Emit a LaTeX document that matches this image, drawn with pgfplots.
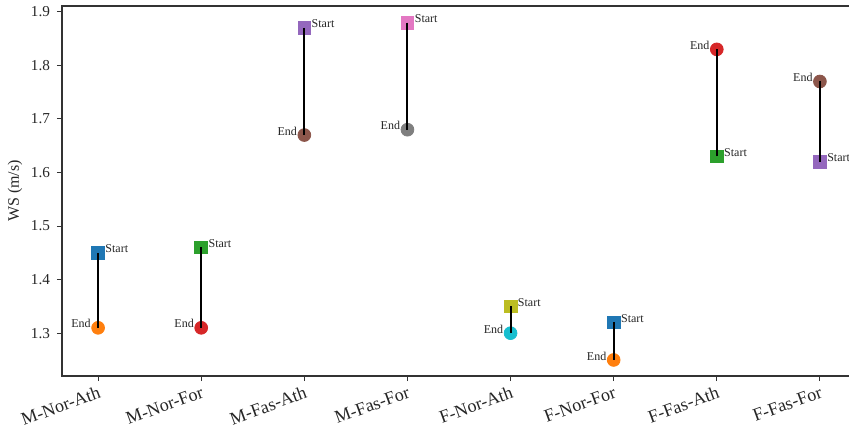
\documentclass[border=0pt]{standalone}
\usepackage{pgfplots}
\pgfplotsset{compat=1.18}
\usepackage{fontspec}
\setmainfont{Liberation Serif}
\definecolor{tabblue}{HTML}{1F77B4}
\definecolor{taborange}{HTML}{FF7F0E}
\definecolor{tabgreen}{HTML}{2CA02C}
\definecolor{tabred}{HTML}{D62728}
\definecolor{tabpurple}{HTML}{9467BD}
\definecolor{tabbrown}{HTML}{8C564B}
\definecolor{tabpink}{HTML}{E377C2}
\definecolor{tabgray}{HTML}{7F7F7F}
\definecolor{tabolive}{HTML}{BCBD22}
\definecolor{tabcyan}{HTML}{17BECF}
\begin{document}
\begin{tikzpicture}
\useasboundingbox (-31pt,-26.5pt) rectangle (393.5pt,188pt);
\clip (-31pt,-26.5pt) rectangle (393.5pt,188pt);
\begin{axis}[
  at={(0,0)}, anchor=south west,
  scale only axis, width=397pt, height=185pt,
  xmin=-0.35, xmax=7.35, ymin=1.22, ymax=1.911,
  xtick={0,1,2,3,4,5,6,7},
  xticklabels={M-Nor-Ath,M-Nor-For,M-Fas-Ath,M-Fas-For,F-Nor-Ath,F-Nor-For,F-Fas-Ath,F-Fas-For},
  ytick={1.3,1.4,1.5,1.6,1.7,1.8,1.9},
  yticklabel style={/pgf/number format/fixed, /pgf/number format/precision=1, /pgf/number format/fixed zerofill, font=\fontsize{7.6}{9}\selectfont, text=black!85},
  /pgf/number format/assume math mode=true,
  tick align=outside, major tick length=2.5pt,
  tick style={black!80, line width=0.5pt},
  axis line style={black!80, line width=0.6pt},
  xtick pos=bottom, ytick pos=left,
  xticklabel style={font=\fontsize{9}{10}\selectfont, text=black!85, rotate=20, anchor=north east, inner sep=1pt, yshift=-1pt},
  ylabel={WS (m/s)},
  ylabel style={font=\fontsize{8}{9}\selectfont, text=black!85, at={(axis description cs:-0.0592,0.5)}, anchor=center, rotate=0},
  clip=true, clip marker paths=true,
]
% start markers (squares)
\addplot[only marks, mark=square*, mark size=3.2pt, color=tabblue] coordinates {(0,1.45)};
\addplot[only marks, mark=square*, mark size=3.2pt, color=tabgreen] coordinates {(1,1.46)};
\addplot[only marks, mark=square*, mark size=3.2pt, color=tabpurple] coordinates {(2,1.87)};
\addplot[only marks, mark=square*, mark size=3.2pt, color=tabpink] coordinates {(3,1.88)};
\addplot[only marks, mark=square*, mark size=3.2pt, color=tabolive] coordinates {(4,1.35)};
\addplot[only marks, mark=square*, mark size=3.2pt, color=tabblue] coordinates {(5,1.32)};
\addplot[only marks, mark=square*, mark size=3.2pt, color=tabgreen] coordinates {(6,1.63)};
\addplot[only marks, mark=square*, mark size=3.2pt, color=tabpurple] coordinates {(7,1.62)};
% end markers (circles)
\addplot[only marks, mark=*, mark size=3.2pt, color=taborange] coordinates {(0,1.31)};
\addplot[only marks, mark=*, mark size=3.2pt, color=tabred] coordinates {(1,1.31)};
\addplot[only marks, mark=*, mark size=3.2pt, color=tabbrown] coordinates {(2,1.67)};
\addplot[only marks, mark=*, mark size=3.2pt, color=tabgray] coordinates {(3,1.68)};
\addplot[only marks, mark=*, mark size=3.2pt, color=tabcyan] coordinates {(4,1.30)};
\addplot[only marks, mark=*, mark size=3.2pt, color=taborange] coordinates {(5,1.25)};
\addplot[only marks, mark=*, mark size=3.2pt, color=tabred] coordinates {(6,1.83)};
\addplot[only marks, mark=*, mark size=3.2pt, color=tabbrown] coordinates {(7,1.77)};
% connecting lines
\addplot[black, line width=1pt, mark=none] coordinates {(0,1.45) (0,1.31)};
\addplot[black, line width=1pt, mark=none] coordinates {(1,1.46) (1,1.31)};
\addplot[black, line width=1pt, mark=none] coordinates {(2,1.87) (2,1.67)};
\addplot[black, line width=1pt, mark=none] coordinates {(3,1.88) (3,1.68)};
\addplot[black, line width=1pt, mark=none] coordinates {(4,1.35) (4,1.30)};
\addplot[black, line width=1pt, mark=none] coordinates {(5,1.32) (5,1.25)};
\addplot[black, line width=1pt, mark=none] coordinates {(6,1.63) (6,1.83)};
\addplot[black, line width=1pt, mark=none] coordinates {(7,1.62) (7,1.77)};
% labels
\addplot[draw=none, mark=none, nodes near coords={Start},
  every node near coord/.append style={anchor=west, xshift=3.5pt, yshift=2pt, inner sep=0pt, font=\fontsize{6}{7}\selectfont, text=black!85}]
  coordinates {(0,1.45) (1,1.46) (2,1.87) (3,1.88) (4,1.35) (5,1.32) (6,1.63) (7,1.62)};
\addplot[draw=none, mark=none, nodes near coords={End},
  every node near coord/.append style={anchor=east, xshift=-3.5pt, yshift=2pt, inner sep=0pt, font=\fontsize{6}{7}\selectfont, text=black!85}]
  coordinates {(0,1.31) (1,1.31) (2,1.67) (3,1.68) (4,1.30) (5,1.25) (6,1.83) (7,1.77)};
\end{axis}
\end{tikzpicture}
\end{document}
